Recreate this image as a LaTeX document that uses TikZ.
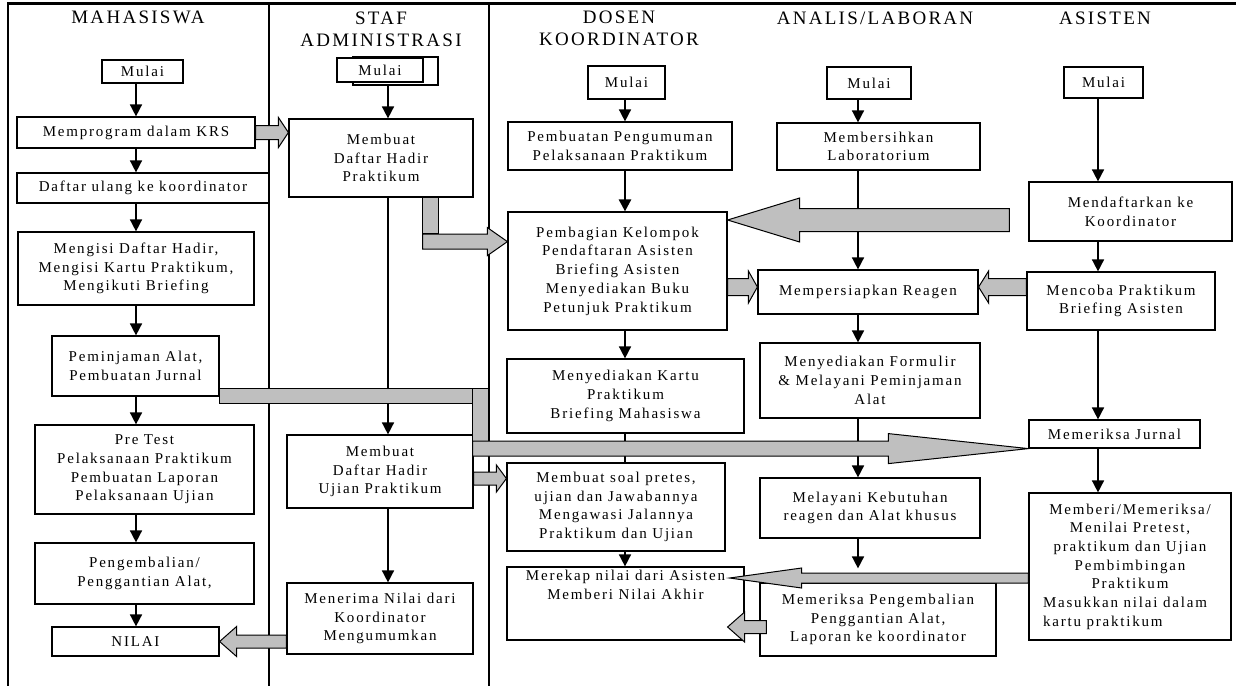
\documentclass[tikz,border=0pt]{standalone}
\usepackage{fontspec}
\setmainfont{Liberation Serif}[LetterSpace=12]
\usepackage{tikz}
\usetikzlibrary{arrows.meta, calc}

\newcommand{\bodyfont}{\fontsize{15}{18.7}\selectfont}
\newcommand{\headfont}{\fontsize{19}{22}\selectfont}
% block arrow: shaft half width, head half width, head length, from, to
\newcommand{\fatarrow}[5]{%
  \coordinate (fa-s) at (#4);
  \coordinate (fa-e) at (#5);
  \coordinate (fa-b) at ($(fa-e)!#3pt!(fa-s)$);
  \draw[garrow] ($(fa-s)!#1pt!90:(fa-e)$) -- ($(fa-b)!#1pt!-90:(fa-s)$)
    -- ($(fa-b)!#2pt!-90:(fa-s)$) -- (fa-e) -- ($(fa-b)!#2pt!90:(fa-s)$)
    -- ($(fa-b)!#1pt!90:(fa-s)$) -- ($(fa-s)!#1pt!-90:(fa-e)$) -- cycle;}

\begin{document}
\begin{tikzpicture}[
  x=1pt, y=-1pt,
  box/.style={draw, line width=1.2pt, fill=white, align=center, inner sep=0pt,
              font=\bodyfont},
  head/.style={align=center, font=\headfont},
  arr/.style={-{Triangle[length=12pt, width=12pt]}, line width=1.6pt},
  garrow/.style={draw, line width=1pt, fill=black!25, line join=miter},
  lane/.style={line width=1.6pt}
]
  \useasboundingbox (0,0) rectangle (1236,686);

  % frame and lanes
  \draw[line width=3pt] (7,3) -- (1236,3);
  \draw[line width=2pt] (8,3) -- (8,686);
  \draw[lane] (269,3) -- (269,686);
  \draw[lane] (489,3) -- (489,686);

  % headers
  \node[head] (hmah) at (138,17) {MAHASISWA};
  \node[head] (hstaf) at (381,29) {STAF\\ADMINISTRASI};
  \node[head] (hdos) at (619,28) {DOSEN\\KOORDINATOR};
  \node[head] (hana) at (875,18) {ANALIS/LABORAN};
  \node[head] (hasi) at (1105,18) {ASISTEN};

  % mahasiswa
  \node[box, minimum width=81pt, minimum height=23pt] (mmul) at (142.5,71.5) {Mulai};
  \node[box, minimum width=238pt, minimum height=31pt] (mkrs) at (136,132.5) {Memprogram dalam KRS};
  \node[box, minimum width=252pt, minimum height=30pt] (mdaf) at (143,188) {Daftar ulang ke koordinator};
  \node[box, minimum width=236pt, minimum height=73pt] (misi) at (136,268.5)
    {Mengisi Daftar Hadir,\\Mengisi Kartu Praktikum,\\Mengikuti Briefing};
  \node[box, minimum width=167pt, minimum height=60pt] (mpin) at (135.5,366)
    {Peminjaman Alat,\\Pembuatan Jurnal};
  \node[box, minimum width=219pt, minimum height=89pt] (mpre) at (144.5,469.5)
    {Pre Test\\Pelaksanaan Praktikum\\Pembuatan Laporan\\Pelaksanaan Ujian};
  \node[box, minimum width=219pt, minimum height=61pt] (mkem) at (144.5,573.5)
    {Pengembalian/\\Penggantian Alat,};
  \node[box, minimum width=167pt, minimum height=29pt] (mnil) at (135.5,641.5) {NILAI};

  % staf administrasi
  \node[box, minimum width=85pt, minimum height=28pt] (smulb) at (395.5,71) {};
  \node[box, minimum width=86pt, minimum height=24pt] (smul) at (380,70) {Mulai};
  \node[box, minimum width=184pt, minimum height=78pt] (sdh) at (381,158)
    {Membuat\\Daftar Hadir\\Praktikum};
  \node[box, minimum width=186pt, minimum height=73pt] (sduj) at (380,471.5)
    {Membuat\\Daftar Hadir\\Ujian Praktikum};
  \node[box, minimum width=186pt, minimum height=71pt] (snil) at (380,618.5)
    {Menerima Nilai dari\\Koordinator\\Mengumumkan};

  % dosen koordinator
  \node[box, minimum width=77pt, minimum height=33pt] (dmul) at (626.5,82.5) {Mulai};
  \node[box, minimum width=224pt, minimum height=48pt] (dpeng) at (620,146)
    {Pembuatan Pengumuman\\Pelaksanaan Praktikum};
  \node[box, minimum width=219pt, minimum height=118pt] (dbagi) at (617.5,271)
    {Pembagian Kelompok\\Pendaftaran Asisten\\Briefing Asisten\\Menyediakan Buku\\Petunjuk Praktikum};
  \node[box, minimum width=237pt, minimum height=74pt] (dkar) at (625.5,396)
    {Menyediakan Kartu\\Praktikum\\Briefing Mahasiswa};
  \node[box, minimum width=218pt, minimum height=88pt] (dsoal) at (616,507)
    {Membuat soal pretes,\\ujian dan Jawabannya\\Mengawasi Jalannya\\Praktikum dan Ujian};
  \node[box, minimum width=237pt, minimum height=73pt] (drek) at (625.5,603.5)
    {Merekap nilai dari Asisten\\Memberi Nilai Akhir\\~\\~};

  % analis/laboran
  \node[box, minimum width=84pt, minimum height=32pt] (amul) at (869,83) {Mulai};
  \node[box, minimum width=203pt, minimum height=47pt] (abers) at (878.5,146.5)
    {Membersihkan\\Laboratorium};
  \node[box, minimum width=220pt, minimum height=44pt] (area) at (868,292) {Mempersiapkan Reagen};
  \node[box, minimum width=220pt, minimum height=75pt] (aform) at (870,380.5)
    {Menyediakan Formulir\\\& Melayani Peminjaman\\Alat};
  \node[box, minimum width=220pt, minimum height=60pt] (alay) at (870,508)
    {Melayani Kebutuhan\\reagen dan Alat khusus};
  \node[box, minimum width=236pt, minimum height=73pt] (aper) at (878,619.5)
    {Memeriksa Pengembalian\\Penggantian Alat,\\Laporan ke koordinator};

  % asisten
  \node[box, minimum width=79pt, minimum height=31pt] (tmul) at (1103.5,82.5) {Mulai};
  \node[box, minimum width=203pt, minimum height=59pt] (tdaf) at (1130.5,211.5)
    {Mendaftarkan ke\\Koordinator};
  \node[box, minimum width=188pt, minimum height=58pt] (tcob) at (1121,301)
    {Mencoba Praktikum\\Briefing Asisten};
  \node[box, minimum width=171pt, minimum height=28pt] (tjur) at (1114.5,434) {Memeriksa Jurnal};
  \node[box, minimum width=202pt, minimum height=147pt] (tnil) at (1130,566.5)
    {Memberi/Memeriksa/\\Menilai Pretest,\\praktikum dan Ujian\\Pembimbingan\\Praktikum\\
     \makebox[174pt][l]{Masukkan nilai dalam}\\\makebox[174pt][l]{kartu praktikum}};

  % black flow lines
  \coordinate (mx) at (136,0);
  \coordinate (sx) at (388,0);
  \coordinate (dx) at (625,0);
  \coordinate (ax) at (858,0);
  \coordinate (tx) at (1098,0);

  \draw[arr] (mmul.south -| mx) -- (mkrs.north -| mx);
  \draw[arr] (mkrs.south -| mx) -- (mdaf.north -| mx);
  \draw[arr] (mdaf.south -| mx) -- (misi.north -| mx);
  \draw[arr] (misi.south -| mx) -- (mpin.north -| mx);
  \draw[arr] (mpin.south -| mx) -- (mpre.north -| mx);
  \draw[arr] (mpre.south -| mx) -- (mkem.north -| mx);
  \draw[arr] (mkem.south -| mx) -- (mnil.north -| mx);

  \draw[arr] (smulb.south -| sx) -- (sdh.north -| sx);
  \draw[arr] (sdh.south -| sx) -- (sduj.north -| sx);
  \draw[arr] (sduj.south -| sx) -- (snil.north -| sx);

  \draw[arr] (dmul.south -| dx) -- (dpeng.north -| dx);
  \draw[arr, line width=2.6pt] (dpeng.south -| dx) -- (dbagi.north -| dx);
  \draw[arr] (dbagi.south -| dx) -- (dkar.north -| dx);
  \draw[line width=1.6pt] (dkar.south -| dx) -- (dsoal.north -| dx);
  \draw[arr] (dsoal.south -| dx) -- (drek.north -| dx);

  \draw[arr] (amul.south -| ax) -- (abers.north -| ax);
  \draw[arr] (abers.south -| ax) -- (area.north -| ax);
  \draw[arr] (area.south -| ax) -- (aform.north -| ax);
  \draw[arr] (aform.south -| ax) -- (alay.north -| ax);
  \draw[arr] (alay.south -| ax) -- ($(aper.north -| ax)+(0,-14)$);

  \draw[arr] (tmul.south -| tx) -- (tdaf.north -| tx);
  \draw[arr] (tdaf.south -| tx) -- (tcob.north -| tx);
  \draw[arr] (tcob.south -| tx) -- (tjur.north -| tx);
  \draw[arr] (tjur.south -| tx) -- (tnil.north -| tx);

  % grey block arrows
  \fatarrow{7}{15}{10}{mkrs.east}{mkrs.east -| sdh.west}

  \coordinate (dbend) at ($(sdh.south east)+(-43,0)$);
  \draw[garrow] ($(dbend)+(-8,0)$) rectangle ($(dbend)+(8,36)$);
  \coordinate (dturn) at ($(dbend)+(-8,44)$);
  \fatarrow{7.5}{14}{20}{dturn}{dturn -| dbagi.west}

  \coordinate (ltail) at ($(tdaf.west)+(-19,8.5)$);
  \fatarrow{11.5}{22}{72}{ltail}{ltail -| dbagi.east}

  \coordinate (rea) at ($(area.west)+(0,-5)$);
  \fatarrow{8.5}{16}{9}{rea -| dbagi.east}{rea}
  \fatarrow{8.5}{16}{10}{rea -| tcob.west}{rea -| area.east}

  \coordinate (jbar) at ($(mpin.south east)+(253,0)$);
  \draw[garrow] ($(mpin.south east)+(0,-8)$) rectangle ($(jbar)+(0,7)$);
  \draw[garrow] ($(jbar)+(0,-8)$) rectangle ($(jbar)+(16,45)$);
  \fatarrow{7.5}{15}{140}{$(jbar)+(0,52)$}{tjur.south west}

  \coordinate (uj) at ($(sduj.east)+(0,7)$);
  \fatarrow{6.5}{13.5}{10}{uj}{uj -| dsoal.west}

  \coordinate (nl) at ($(tnil.west)+(0,11.5)$);
  \fatarrow{5}{10}{72}{nl}{$(nl -| drek.east)+(-15,0)$}

  \coordinate (pg) at ($(aper.west)+(7,7.5)$);
  \fatarrow{6.5}{15}{17}{pg}{$(pg -| drek.east)+(-17,0)$}

  \fatarrow{6.5}{15}{17}{mnil.east -| snil.west}{mnil.east}
\end{tikzpicture}
\end{document}
